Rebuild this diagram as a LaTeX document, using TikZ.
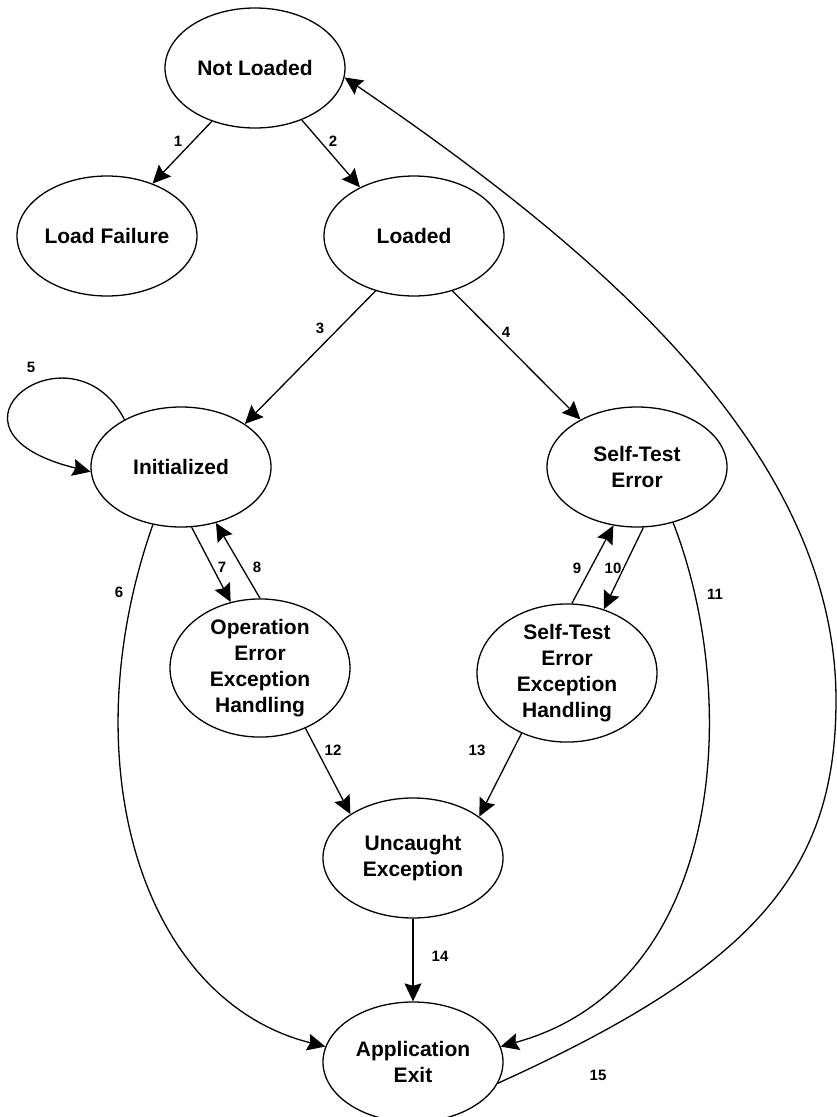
\documentclass[tikz,border=0pt]{standalone}
\usepackage{fontspec}
\setmainfont{Liberation Sans}
\usetikzlibrary{arrows.meta,shapes.geometric}
\begin{document}
\begin{tikzpicture}[x=1pt,y=-1pt,
  state/.style={ellipse,draw,line width=1.3pt,minimum width=180pt,minimum height=120pt,
    inner sep=0pt,align=center,font=\fontsize{21}{26}\selectfont\bfseries},
  lbl/.style={font=\fontsize{15}{18}\selectfont\bfseries,inner sep=0pt},
  arr/.style={line width=1.3pt,-{Stealth[length=18pt,width=17pt,inset=2.5pt]}}]
\useasboundingbox (0,0) rectangle (837,1117);
% states
\node[state] (NL) at (255,68) {Not Loaded};
\node[state] (LF) at (107,236) {Load Failure};
\node[state] (LD) at (414,236) {Loaded};
\node[state] (IN) at (181,467) {Initialized};
\node[state] (STE) at (637,467) {Self-Test\\Error};
\node[state] (OEEH) at (260,668) {Operation\\Error\\Exception\\Handling};
\node[state] (STEEH) at (567,673) {Self-Test\\Error\\Exception\\Handling};
\node[state] (UE) at (413,858) {Uncaught\\Exception};
\node[state] (AE) at (413,1062) {Application\\Exit};
% transitions
\draw[arr] (NL.231) -- (LF.49);
\draw[arr] (NL.312) -- (LD.138);
\draw[arr] (LD.235) -- (IN.34);
\draw[arr] (LD.305) -- (STE.140);
\draw[arr] (IN.140) .. controls (72,318) and (-80,430) .. (IN.183);
\draw[arr] (IN.244) .. controls (70,760) and (140,1000) .. (AE.170);
\draw[arr] (IN.280) -- (OEEH.114);
\draw[arr] (OEEH.90) -- (IN.302);
\draw[arr] (STEEH.86) -- (STE.248);
\draw[arr] (STE.276) -- (STEEH.60);
\draw[arr] (STE.303) .. controls (742,700) and (725,985) .. (AE.10);
\draw[arr] (OEEH.307) -- (UE.145);
\draw[arr] (STEEH.233) -- (UE.32);
\draw[arr] (UE.south) -- (AE.north);
\draw[arr] (AE.346) .. controls (757,966) and (836,870) .. (836,700)
  .. controls (836,450) and (595,248) .. (NL.354);
% labels
\node[lbl] (l1) at (178,141) {1};
\node[lbl] (l2) at (333,141) {2};
\node[lbl] (l3) at (320,328) {3};
\node[lbl] (l4) at (506,332) {4};
\node[lbl] (l5) at (31,367) {5};
\node[lbl] (l6) at (119,592) {6};
\node[lbl] (l7) at (222,567) {7};
\node[lbl] (l8) at (257,567) {8};
\node[lbl] (l9) at (577,568) {9};
\node[lbl] (l10) at (613,568) {10};
\node[lbl] (l11) at (715,594) {11};
\node[lbl] (l12) at (333,750) {12};
\node[lbl] (l13) at (477,750) {13};
\node[lbl] (l14) at (440,956) {14};
\node[lbl] (l15) at (598,1075) {15};
\end{tikzpicture}
\end{document}
